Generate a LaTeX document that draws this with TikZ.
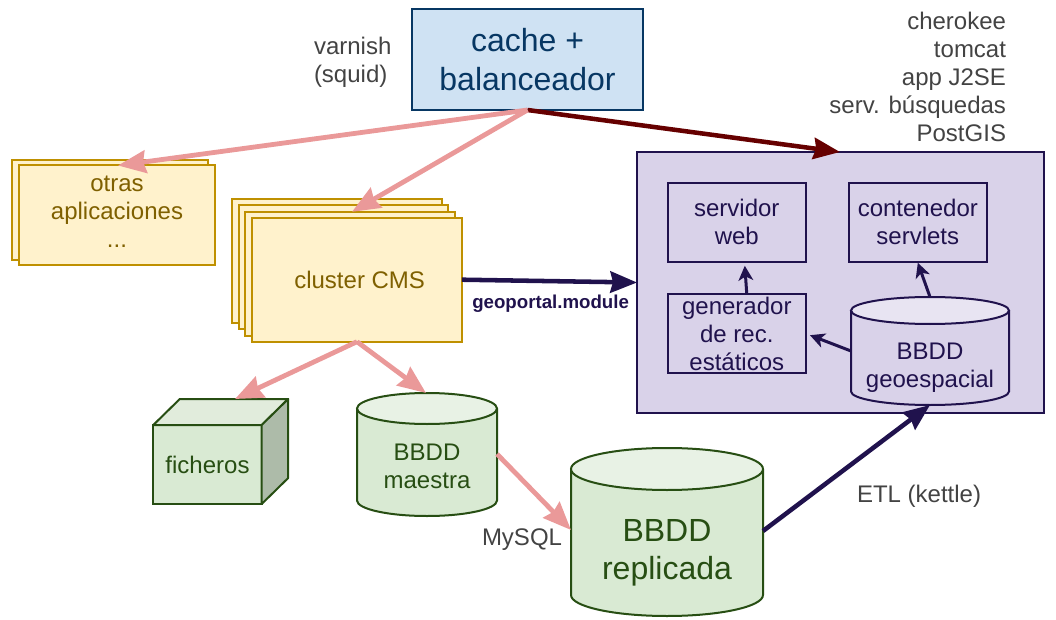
\documentclass[tikz,border=0pt]{standalone}
\usepackage{fontspec}
\setmainfont{Liberation Sans}
\usetikzlibrary{arrows.meta,calc}
\definecolor{bluef}{HTML}{CFE2F3}\definecolor{blued}{HTML}{073763}\definecolor{bluet}{HTML}{073763}
\definecolor{yelf}{HTML}{FFF2CC}\definecolor{yeld}{HTML}{BF9000}\definecolor{yelt}{HTML}{7F6000}
\definecolor{grnf}{HTML}{D9EAD3}\definecolor{grnd}{HTML}{274E13}\definecolor{grnl}{HTML}{E8F2E5}\definecolor{grnt}{HTML}{E1ECDC}\definecolor{grns}{HTML}{ADBBA9}
\definecolor{purf}{HTML}{D9D2E9}\definecolor{purd}{HTML}{20124D}\definecolor{purl}{HTML}{E8E4F2}
\definecolor{pink}{HTML}{EA9999}\definecolor{dred}{HTML}{660000}\definecolor{gtxt}{HTML}{434343}
\tikzset{
  size/.style 2 args={minimum width=#1*0.75pt,minimum height=#2*0.75pt},
  base/.style={shape=rectangle,inner sep=0pt,outer sep=0pt,align=center,line width=1.5pt},
  bluebox/.style={base,fill=bluef,draw=blued,text=bluet},
  yelbox/.style={base,fill=yelf,draw=yeld,text=yelt,font=\fontsize{18}{21}\selectfont},
  grnbox/.style={base,fill=grnf,draw=grnd,text=grnd,font=\fontsize{18}{21}\selectfont},
  purbox/.style={base,fill=purf,draw=purd,text=purd,font=\fontsize{18}{21}\selectfont},
  note/.style={inner sep=0pt,outer sep=0pt,text=gtxt,font=\fontsize{18}{21}\selectfont},
  pinkarrow/.style={draw=pink,line width=3.6pt,-{Stealth[length=21pt,width=17pt,inset=2pt,fill=pink]}},
  redarrow/.style={draw=dred,line width=3.4pt,-{Stealth[length=20pt,width=16pt,inset=2pt,fill=dred]}},
  purarrow/.style={draw=purd,line width=3.4pt,-{Stealth[length=20pt,width=16pt,inset=2pt,fill=purd]}},
  innerarrow/.style={draw=purd,line width=2.25pt,-{Stealth[length=11pt,width=11pt,inset=3pt,fill=purd]}},
}
% name, cx, top, bot, rx, ry, body style, lid colour, line colour, text
\newcommand{\cylnode}[9]{%
  \pgfmathsetmacro\rxpt{#5*0.75}\pgfmathsetmacro\rypt{#6*0.75}%
  \pgfmathsetmacro\bw{2*#5}\pgfmathsetmacro\bh{#4-#3-2*#6}%
  \path[fill=#7,draw=#9,line width=1.5pt] ({#2-#5},{#3+#6}) -- ({#2-#5},{#4-#6})
     arc[start angle=180,end angle=360,x radius=\rxpt pt,y radius=\rypt pt] -- ({#2+#5},{#3+#6});
  \path[fill=#8,draw=#9,line width=1.5pt] (#2,{#3+#6}) ellipse[x radius=\rxpt pt,y radius=\rypt pt];
  \node[base,text=#9,size={\bw}{\bh},#1] at (#2,{(#3+2*#6+#4)/2}) }
\begin{document}
\begin{tikzpicture}[x=0.75pt,y=-0.75pt]
\useasboundingbox (0,0) rectangle (1056,620);
% cache
\node[bluebox,size={231}{101},font=\fontsize{24}{29}\selectfont] (cache) at (527.5,59.5) {cache +\\balanceador};
% otras aplicaciones
\node[yelbox,size={196}{100}] (otrasB) at (110,210.5) {};
\node[yelbox,size={196}{100}] (otras) at (117,215) {otras\\aplicaciones\\...\rule[-4.5pt]{0pt}{0pt}};
% cluster
\node[yelbox,size={209.6}{124}] (cmsA) at (336.8,261) {};
\node[yelbox,size={209.6}{124}] (cmsB) at (343.4,267) {};
\node[yelbox,size={209.6}{124}] (cmsC) at (350.2,273.8) {};
\node[yelbox,size={209.6}{124}] (cms) at (357,279.7) {\hspace*{4pt}cluster CMS};
% ficheros
\node[grnbox,size={108.4}{79}] (fich) at (207.5,464.5) {ficheros};
\path[fill=grnt,draw=grnd,line width=1.5pt,line join=round] (fich.north west) -- ++(26.5,-26) -- ++(108.4,0) -- (fich.north east) -- cycle;
\path[fill=grns,draw=grnd,line width=1.5pt,line join=round] (fich.north east) -- ++(26.5,-26) -- ++(0,79) -- (fich.south east) -- cycle;
% databases
\cylnode{font=\fontsize{18}{21}\selectfont}{427}{393}{516}{70}{15.5}{grnf}{grnl}{grnd} (master) {BBDD\\maestra\rule[-6pt]{0pt}{0pt}};
\cylnode{font=\fontsize{24}{28.5}\selectfont}{667}{448}{616}{96}{21}{grnf}{grnl}{grnd} (repl) {BBDD\\replicada\rule[-6pt]{0pt}{0pt}};
% geoportal box
\node[purbox,size={407}{261}] (portal) at (840.5,282.5) {};
\node[purbox,size={138.3}{78.7}] (web) at (736.8,222.4) {servidor\\web};
\node[purbox,size={138.3}{78.7}] (serv) at (917.8,222.4) {contenedor\\servlets};
\node[purbox,size={138.3}{78.7}] (gen) at (736.8,333.7) {generador\\de rec.\\estáticos};
\cylnode{font=\fontsize{18}{21}\selectfont}{930}{297}{405}{79}{13.5}{purf}{purl}{purd} (geo) {\rule{0pt}{17pt}BBDD\\geoespacial};
% notes
\node[note,align=left,anchor=north west] (varnish) at (314,37) {varnish\\(squid)};
\node[note,align=right,anchor=north east] (soft) at (1006,12.5) {cherokee\\tomcat\\app J2SE\\serv. búsquedas\\PostGIS};
\node[note,anchor=base west] (mysql) at (482,545) {MySQL};
\node[note,anchor=base west] (etl) at (857,502) {ETL (kettle)};
\node[inner sep=0pt,text=purd,anchor=base west,font=\fontsize{14}{17}\selectfont\bfseries] (gm) at (472,308) {geoportal.module};
% connectors
\draw[redarrow] (cache.south) -- ([shift={(312.5,0)}]cache.south |- portal.north);
\draw[pinkarrow] (cache.south) -- ([shift={(8,5)}]otrasB.north);
\draw[pinkarrow] (cache.south) -- ([shift={(1.8,0)}]cmsC.north);
\draw[pinkarrow] (cms.south) -- ([shift={(27.5,-26)}]fich.north);
\draw[pinkarrow] (cms.south) -- ([shift={(-1,-31)}]master.north);
\draw[pinkarrow] ([shift={(0,-16)}]master.east) -- ([shift={(0,-23)}]repl.west);
\draw[purarrow] (cms.east) -- (portal.west);
\draw[purarrow] ([shift={(0,-22)}]repl.east) -- (geo.south);
\draw[innerarrow] ([shift={(10,0)}]gen.north) -- ([shift={(8,4)}]web.south);
\draw[innerarrow] ([shift={(0,-27)}]geo.north) -- ([shift={(0,1)}]serv.south);
\draw[innerarrow] ([shift={(0,-13.5)}]geo.west) -- ([shift={(4,1.5)}]gen.east);
\end{tikzpicture}
\end{document}
